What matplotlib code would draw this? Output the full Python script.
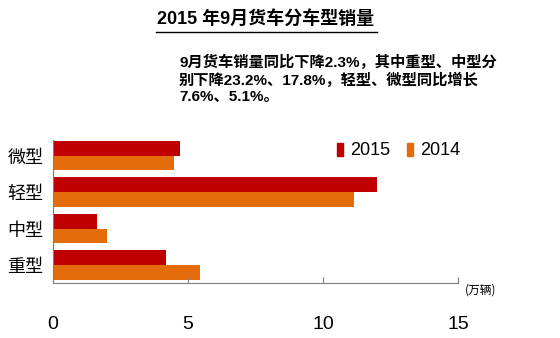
import matplotlib
matplotlib.use("Agg")
import matplotlib.pyplot as plt
from matplotlib.lines import Line2D
from matplotlib.patches import Patch
import numpy as np

plt.rcParams['font.family'] = ['Noto Sans CJK SC', 'DejaVu Sans']

categories = ['重型', '中型', '轻型', '微型']
sales_2015 = [4.17, 1.63, 12.0, 4.71]
sales_2014 = [5.44, 1.99, 11.16, 4.48]
xticks = [0, 5, 10, 15]
xtick_labels = ['0', '5', '10', '15']

red = '#C00000'
orange = '#E46C0A'
num_font = ['Liberation Sans', 'DejaVu Sans']

fig = plt.figure(figsize=(5.6, 3.38), dpi=100)
ax = fig.add_axes([0.0946, 0.163, 0.818 - 0.0946, 0.586 - 0.163])

y = np.arange(len(categories))
h = 0.4
ax.barh(y + h / 2, sales_2015, height=h, color=red, label='2015')
ax.barh(y - h / 2, sales_2014, height=h, color=orange, label='2014')

ax.set_xlim(0, 15)
ax.set_ylim(-0.49, 3.43)
ax.set_yticks(y)
ax.set_yticklabels(categories, fontsize=13, fontweight='medium')
ax.tick_params(axis='y', length=0, pad=7)
ax.set_xticks(xticks)
ax.set_xticklabels(xtick_labels, family=num_font, fontsize=14)
ax.tick_params(axis='x', direction='in', length=4, pad=24, color='#7f7f7f')
for s in ['top', 'right']:
    ax.spines[s].set_visible(False)
for s in ['left', 'bottom']:
    ax.spines[s].set_color('#7f7f7f')
    ax.spines[s].set_linewidth(0.8)

handles = [Patch(color=red), Patch(color=orange)]
leg = fig.legend(handles, ['2015', '2014'], ncol=2, frameon=False,
                 loc='center left', bbox_to_anchor=(337 / 560, 1 - 151 / 338),
                 handlelength=0.35, handleheight=0.75, handletextpad=0.4,
                 columnspacing=0.9, borderaxespad=0, borderpad=0,
                 prop={'family': num_font, 'size': 13})

fig.text(0.858, 1 - 290 / 338, '(万辆)', fontsize=8.5, ha='center', va='center')

fig.text(266 / 560, 1 - 19 / 338, '2015 年9月货车分车型销量', fontsize=13,
         fontweight='bold', ha='center', va='center',
         family=['Liberation Sans', 'Noto Sans CJK SC'])
fig.add_artist(Line2D([156 / 560, 377 / 560], [1 - 32 / 338, 1 - 32 / 338],
                      color='black', lw=1.0))

note = ('9月货车销量同比下降2.3%，其中重型、中型分\n'
        '别下降23.2%、17.8%，轻型、微型同比增长\n'
        '7.6%、5.1%。')
fig.text(179 / 560, 1 - 55 / 338, note, fontsize=11.0, fontweight='bold',
         ha='left', va='top', linespacing=1.2,
         family=['Liberation Sans', 'Noto Sans CJK SC'])

fig.savefig('out.png', dpi=100)
